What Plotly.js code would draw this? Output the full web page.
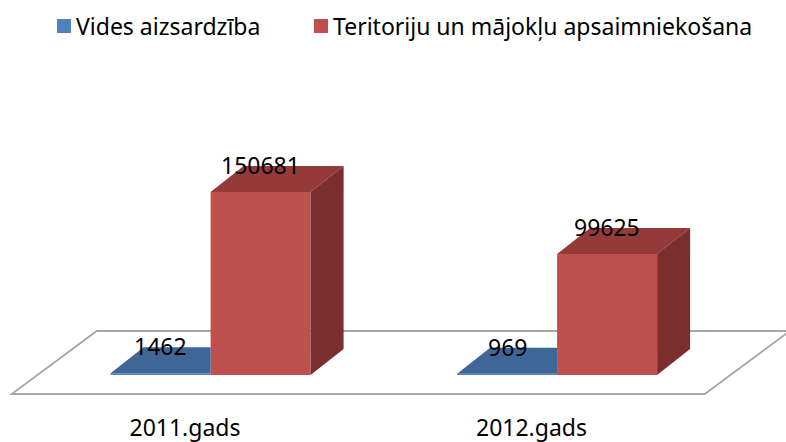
<!DOCTYPE html>
<html><head><meta charset="utf-8">
<script src="https://cdn.plot.ly/plotly-3.0.1.min.js"></script>
<style>html,body{margin:0;padding:0;background:#fff}</style>
</head><body><div id="chart" style="width:786px;height:442px"></div>
<script>
// ---- data ----
const categories = ["2011.gads", "2012.gads"];
const seriesNames = ["Vides aizsardzība", "Teritoriju un mājokļu apsaimniekošana"];
const videsValues = [1462, 969];
const teritorijuValues = [150681, 99625];

// ---- geometry / styling ----
const W = 786, H = 442, plotB = 412;
const pxPerX = 346.5, x0px = 185;
const baselinePx = 375, upp = 823.4; // data units per pixel (vertical)
const FONT = "'Noto Sans', 'Open Sans', sans-serif";
const fx = 25.6 / pxPerX;      // front plane shift of bars
const bw = 100 / pxPerX;       // bar width
const ddx = 33 / pxPerX, ddy = 26 * upp;  // bar depth
const floorFront = -19 * upp, floorDx = 85 / pxPerX, floorDy = 63 * upp;

const colors = {
  blueFront: '#4F81BD', blueTop: '#3E6696',
  redFront: '#C0504D', redTop: '#943A38', redSide: '#7A2F2E',
  floorLine: '#A6A6A6'
};

const traces = [];
const annotations = [];

// bar front faces
traces.push({
  type: 'bar', x: categories.map((c, i) => i), y: videsValues,
  offset: fx - bw, width: bw, base: 0,
  marker: {color: colors.blueFront, line: {width: 0}}, hoverinfo: 'skip'
});
traces.push({
  type: 'bar', x: categories.map((c, i) => i), y: teritorijuValues,
  offset: fx, width: bw, base: 0,
  marker: {color: colors.redFront, line: {width: 0}}, hoverinfo: 'skip'
});

function poly(xs, ys, color) {
  traces.push({type: 'scatter', mode: 'lines', x: xs.concat([xs[0]]), y: ys.concat([ys[0]]),
    fill: 'toself', fillcolor: color, line: {width: 0, color: color}, hoverinfo: 'skip'});
}

categories.forEach((c, i) => {
  // blue (flat) bar top, visible part up to the red bar front
  const bL = i + fx - bw, bR = i + fx, hb = videsValues[i];
  poly([bL, bR, bR, bL + ddx], [hb, hb, hb + ddy, hb + ddy], colors.blueTop);
  // red bar top and side
  const rL = i + fx, rR = i + fx + bw, hr = teritorijuValues[i];
  poly([rL, rR, rR + ddx, rL + ddx], [hr, hr, hr + ddy, hr + ddy], colors.redTop);
  poly([rR, rR + ddx, rR + ddx, rR], [0, ddy, hr + ddy, hr], colors.redSide);
  // data labels
  annotations.push({x: (bL + bR) / 2, y: hb, xref: 'x', yref: 'y', yshift: 27, showarrow: false,
    text: String(hb), font: {family: FONT, size: 23, color: '#000'}, yanchor: 'middle'});
  annotations.push({x: (rL + rR) / 2, y: hr, xref: 'x', yref: 'y', yshift: 27, showarrow: false,
    text: String(hr), font: {family: FONT, size: 23, color: '#000'}, yanchor: 'middle'});
});

// custom legend
const pxX = p => p / W, pxY = p => 1 - p / plotB;
const shapes = [];
const legendItems = [
  {sq: 57, tx: 74, color: colors.blueFront, name: seriesNames[0]},
  {sq: 314, tx: 331, color: colors.redFront, name: seriesNames[1]}
];
legendItems.forEach(it => {
  shapes.push({type: 'rect', xref: 'paper', yref: 'paper', x0: pxX(it.sq), x1: pxX(it.sq + 14),
    y0: pxY(33), y1: pxY(19), fillcolor: it.color, line: {width: 0}});
  annotations.push({xref: 'paper', yref: 'paper', x: pxX(it.tx), y: pxY(26), xanchor: 'left',
    yanchor: 'middle', showarrow: false, text: it.name, font: {family: FONT, size: 23, color: '#000'}});
});

// floor
const fxL = -0.5, fxR = categories.length - 0.5;
shapes.unshift({type: 'path', xref: 'x', yref: 'y', layer: 'below',
  path: `M${fxL},${floorFront} L${fxR},${floorFront} L${fxR + floorDx},${floorFront + floorDy} L${fxL + floorDx},${floorFront + floorDy} Z`,
  fillcolor: '#fff', line: {color: colors.floorLine, width: 1.8}});

const layout = {
  width: W, height: H, margin: {l: 0, r: 0, t: 0, b: H - plotB, pad: 0},
  paper_bgcolor: '#fff', plot_bgcolor: 'rgba(0,0,0,0)',
  showlegend: false, barmode: 'overlay',
  xaxis: {range: [(0 - x0px) / pxPerX, (W - x0px) / pxPerX], tickvals: categories.map((c, i) => i),
    ticktext: categories, showgrid: false, zeroline: false, showline: false, ticks: '',
    tickfont: {family: FONT, size: 23, color: '#000'}, fixedrange: true},
  yaxis: {range: [(baselinePx - plotB) * upp, baselinePx * upp], visible: false, fixedrange: true},
  shapes: shapes, annotations: annotations
};
Plotly.newPlot('chart', traces, layout, {displayModeBar: false, staticPlot: true});
</script></body></html>
